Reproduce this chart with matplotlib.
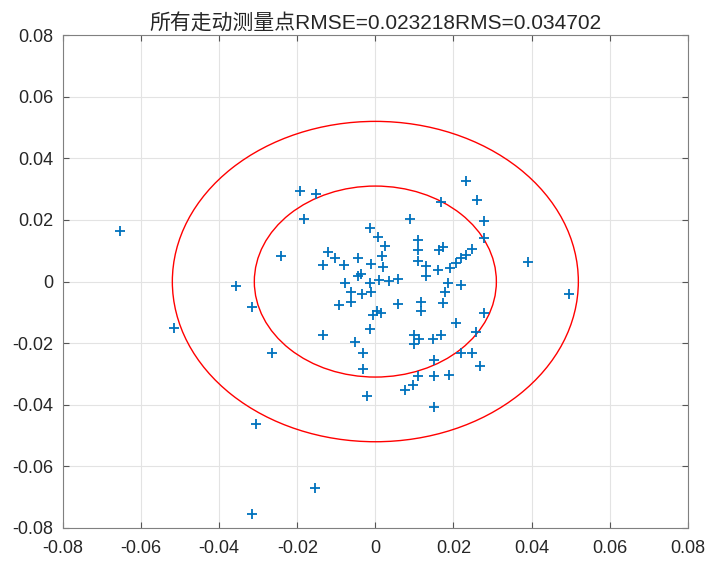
import matplotlib
matplotlib.use("Agg")
import matplotlib.pyplot as plt
from matplotlib.patches import Circle

plt.rcParams["font.family"] = ["Liberation Sans", "Noto Sans CJK SC", "DejaVu Sans"]

# measured points (x, y errors)
x_err = [
    -0.0654, -0.0515, -0.0356, -0.0315, -0.0305, -0.0315, -0.0154, -0.0264, -0.0241, 0.0390,
    0.0497, -0.0193, -0.0152, -0.0184, -0.0014, 0.0008, 0.0026, -0.0122, -0.0103, -0.0044,
    0.0017, -0.0135, -0.0081, -0.0011, 0.0019, -0.0037, -0.0045, -0.0079, -0.0014, 0.0010,
    0.0231, 0.0260, 0.0168, 0.0089, 0.0279, 0.0279, 0.0108, 0.0108, 0.0173, 0.0164,
    0.0248, 0.0233, 0.0220, 0.0108, 0.0207, 0.0130, 0.0190, 0.0160, 0.0130, 0.0057,
    0.0036, 0.0185, 0.0220, -0.0062, -0.0033, -0.0011, -0.0094, -0.0062, -0.0007, 0.0015,
    0.0003, -0.0014, -0.0135, -0.0051, -0.0031, -0.0031, -0.0022, 0.0179, 0.0057, 0.0117,
    0.0173, 0.0117, 0.0279, 0.0207, 0.0258, 0.0100, 0.0113, 0.0100, 0.0147, 0.0168,
    0.0220, 0.0248, 0.0268, 0.0149, 0.0108, 0.0151, 0.0188, 0.0096, 0.0077, 0.0149,
]
y_err = [
    0.0165, -0.0152, -0.0013, -0.0084, -0.0463, -0.0755, -0.0671, -0.0233, 0.0084, 0.0065,
    -0.0042, 0.0293, 0.0285, 0.0204, 0.0174, 0.0144, 0.0114, 0.0097, 0.0077, 0.0077,
    0.0084, 0.0055, 0.0055, 0.0057, 0.0046, 0.0023, 0.0017, -0.0004, -0.0004, 0.0006,
    0.0327, 0.0266, 0.0258, 0.0204, 0.0198, 0.0142, 0.0136, 0.0104, 0.0111, 0.0104,
    0.0107, 0.0087, 0.0077, 0.0066, 0.0061, 0.0050, 0.0044, 0.0037, 0.0017, 0.0009,
    0.0001, -0.0004, -0.0010, -0.0035, -0.0042, -0.0035, -0.0075, -0.0067, -0.0107, -0.0101,
    -0.0097, -0.0155, -0.0175, -0.0195, -0.0233, -0.0283, -0.0373, -0.0035, -0.0072, -0.0067,
    -0.0071, -0.0096, -0.0101, -0.0134, -0.0163, -0.0175, -0.0186, -0.0204, -0.0186, -0.0175,
    -0.0233, -0.0233, -0.0274, -0.0256, -0.0305, -0.0307, -0.0304, -0.0337, -0.0353, -0.0406,
]
circle_radii = [0.031, 0.052]
rmse = 0.023218
rms = 0.034702
ticks = [-0.08, -0.06, -0.04, -0.02, 0, 0.02, 0.04, 0.06, 0.08]
tick_labels = ["-0.08", "-0.06", "-0.04", "-0.02", "0", "0.02", "0.04", "0.06", "0.08"]

fig = plt.figure(figsize=(7.09, 5.62), dpi=100)
ax = fig.add_axes([0.0889, 0.0605, 0.881, 0.877])

ax.plot(x_err, y_err, "+", color="#0072BD", markersize=7.5, markeredgewidth=1.3)
for r in circle_radii:
    ax.add_patch(Circle((0, 0), r, fill=False, edgecolor="red", linewidth=1.0))

ax.set_xlim(-0.08, 0.08)
ax.set_ylim(-0.08, 0.08)
ax.set_xticks(ticks)
ax.set_xticklabels(tick_labels)
ax.set_yticks(ticks)
ax.set_yticklabels(tick_labels)
ax.grid(True, color="#e3e3e3", linewidth=0.8)
ax.set_axisbelow(True)
ax.tick_params(direction="in", length=4, top=True, right=True, labelsize=13,
               color="#555555", labelcolor="#262626")
ax.tick_params(axis="x", pad=9)
ax.tick_params(axis="y", pad=7)
for s in ax.spines.values():
    s.set_color("#808080")

ax.set_title(f"所有走动测量点RMSE={rmse:.6f}RMS={rms:.6f}", fontsize=15,
             color="#262626", pad=4)

fig.savefig("out.png", dpi=100)
